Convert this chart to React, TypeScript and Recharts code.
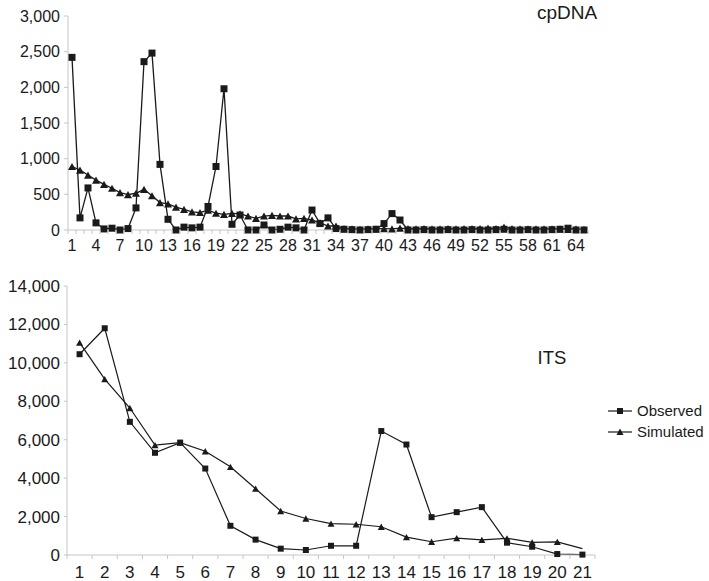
import { LineChart, Line, XAxis, YAxis, Legend } from 'recharts';

// cpDNA panel: 65 categories, labels every third
const cpPositions = Array.from({ length: 65 }, (_, i) => i + 1);
const cpTickLabels = [1, 4, 7, 10, 13, 16, 19, 22, 25, 28, 31, 34, 37, 40, 43, 46, 49, 52, 55, 58, 61, 64];
const cpYTicks = [0, 500, 1000, 1500, 2000, 2500, 3000];
const cpObserved = [
  2420, 170, 590, 100, 15, 25, 0, 20, 310, 2360,
  2480, 920, 150, 0, 40, 30, 40, 330, 890, 1980,
  80, 210, 0, 0, 70, 0, 10, 40, 30, 0,
  280, 90, 170, 20, 10, 5, 0, 5, 10, 90,
  230, 140, 0, 0, 5, 0, 0, 5, 0, 0,
  5, 0, 0, 5, 10, 0, 0, 5, 0, 0,
  5, 10, 25, 0, 0,
];
const cpSimulated = [
  890, 840, 770, 700, 640, 585, 525, 495, 515, 570,
  480, 385, 365, 320, 290, 255, 245, 280, 235, 220,
  234, 225, 196, 164, 196, 205, 196, 196, 155, 164,
  140, 103, 56, 56, 20, 15, 10, 15, 15, 20,
  15, 25, 20, 15, 20, 15, 15, 20, 15, 20,
  20, 20, 25, 20, 40, 20, 15, 15, 15, 15,
  15, 15, 10, 15, 10,
];

// ITS panel: 21 categories
const itsPositions = Array.from({ length: 21 }, (_, i) => i + 1);
const itsYTicks = [0, 2000, 4000, 6000, 8000, 10000, 12000, 14000];
const itsObserved = [10450, 11800, 6930, 5320, 5850, 4500, 1520, 800, 330, 260, 480, 480, 6450, 5750, 1970, 2230, 2490, 640, 430, 50, 20];
const itsSimulated = [11050, 9150, 7650, 5720, 5850, 5400, 4590, 3450, 2290, 1900, 1630, 1600, 1470, 930, 690, 880, 790, 870, 660, 680, 330];

const cpData = cpPositions.map((pos, i) => ({ pos, observed: cpObserved[i], simulated: cpSimulated[i] }));
const itsData = itsPositions.map((pos, i) => ({ pos, observed: itsObserved[i], simulated: itsSimulated[i] }));

const FONT = '"Liberation Sans", Arial, sans-serif';
const INK = '#1a1a1a';
const AXIS = '#c6c6c6';

// boundary tick marks sit between categories, labels sit on them
const cpXTicks = [...cpTickLabels, ...cpPositions.map((p) => p - 0.5), 65.5];
const itsXTicks = [...itsPositions, ...itsPositions.map((p) => p - 0.5), 21.5];

const makeXTick = (gap: number, fontSize: number) => (props: any) => {
  const { x, y, payload } = props;
  const v = payload.value;
  if (v % 1 !== 0) {
    return <line x1={x} y1={y} x2={x} y2={y + 4} stroke={AXIS} />;
  }
  return (
    <text x={x} y={y + gap} dy="0.71em" textAnchor="middle" fontSize={fontSize} fontFamily={FONT} fill={INK}>
      {v}
    </text>
  );
};

const squareDot = (size: number) => (props: any) => {
  const { cx, cy, index } = props;
  if (cx == null || cy == null) return <g key={`s-${index}`} />;
  return <rect key={`s-${index}`} x={cx - size / 2} y={cy - size / 2} width={size} height={size} fill={INK} />;
};

const triangleDot = (size: number, skipLast?: number) => (props: any) => {
  const { cx, cy, index } = props;
  if (cx == null || cy == null || index === skipLast) return <g key={`t-${index}`} />;
  const h = size * 0.9;
  const pts = `${cx},${cy - h / 2} ${cx - size / 2},${cy + h / 2} ${cx + size / 2},${cy + h / 2}`;
  return <polygon key={`t-${index}`} points={pts} fill={INK} />;
};

const fmt = (v: number) => v.toLocaleString('en-US');

const renderLegend = (props: any) => {
  const items = props.payload || [];
  return (
    <div style={{ fontFamily: FONT, fontSize: 15, color: INK }}>
      {items.map((item: any) => (
        <div key={item.value} style={{ display: 'flex', alignItems: 'center', height: 21, whiteSpace: 'nowrap' }}>
          <svg width={26} height={12}>
            <line x1={0} y1={6} x2={24} y2={6} stroke={INK} strokeWidth={1.2} />
            {item.dataKey === 'observed' ? (
              <rect x={9} y={3} width={6} height={6} fill={INK} />
            ) : (
              <polygon points="12,2.5 8.5,9 15.5,9" fill={INK} />
            )}
          </svg>
          <span style={{ marginLeft: 3 }}>{item.value}</span>
        </div>
      ))}
    </div>
  );
};

export default function App() {
  return (
    <div style={{ position: 'absolute', left: 0, top: 0, width: 709, height: 581, background: '#fff' }}>
      <div style={{ position: 'absolute', left: 0, top: 0 }}>
        <LineChart width={600} height={260} data={cpData} margin={{ top: 16, right: 12, left: 0, bottom: 0 }}>
          <XAxis
            dataKey="pos"
            type="number"
            domain={[0.5, 65.5]}
            ticks={cpXTicks}
            interval={0}
            tickLine={false}
            tickSize={0}
            tickMargin={0}
            height={30}
            axisLine={{ stroke: AXIS }}
            tick={makeXTick(10, 16)}
          />
          <YAxis
            width={68}
            domain={[0, 3000]}
            ticks={cpYTicks}
            tickFormatter={fmt}
            axisLine={{ stroke: AXIS }}
            tickLine={{ stroke: AXIS }}
            tickSize={4}
            tickMargin={4}
            tick={{ fontSize: 16, fontFamily: FONT, fill: INK }}
          />
          <Line
            type="linear"
            dataKey="observed"
            name="Observed"
            stroke={INK}
            strokeWidth={1.3}
            dot={squareDot(7)}
            activeDot={false}
            isAnimationActive={false}
          />
          <Line
            type="linear"
            dataKey="simulated"
            name="Simulated"
            stroke={INK}
            strokeWidth={1.3}
            dot={triangleDot(8)}
            activeDot={false}
            isAnimationActive={false}
          />
        </LineChart>
      </div>

      <div style={{ position: 'absolute', left: 0, top: 270 }}>
        <LineChart width={610} height={311} data={itsData} margin={{ top: 16, right: 15, left: 0, bottom: 0 }}>
          <XAxis
            dataKey="pos"
            type="number"
            domain={[0.5, 21.5]}
            ticks={itsXTicks}
            interval={0}
            tickLine={false}
            tickSize={0}
            tickMargin={0}
            height={26}
            axisLine={{ stroke: AXIS }}
            tick={makeXTick(11, 17)}
          />
          <YAxis
            width={67}
            domain={[0, 14000]}
            ticks={itsYTicks}
            tickFormatter={fmt}
            axisLine={{ stroke: AXIS }}
            tickLine={{ stroke: AXIS }}
            tickSize={3}
            tickMargin={4}
            tick={{ fontSize: 17, fontFamily: FONT, fill: INK }}
          />
          <Legend
            layout="horizontal"
            verticalAlign="middle"
            align="center"
            content={renderLegend}
            wrapperStyle={{ left: 608, top: 130, width: 'auto', height: 'auto' }}
          />
          <Line
            type="linear"
            dataKey="observed"
            name="Observed"
            stroke={INK}
            strokeWidth={1.2}
            dot={squareDot(6)}
            activeDot={false}
            isAnimationActive={false}
          />
          <Line
            type="linear"
            dataKey="simulated"
            name="Simulated"
            stroke={INK}
            strokeWidth={1.2}
            dot={triangleDot(7, 20)}
            activeDot={false}
            isAnimationActive={false}
          />
        </LineChart>
      </div>

      <svg width={709} height={581} style={{ position: 'absolute', left: 0, top: 0, pointerEvents: 'none' }}>
        <text x={567} y={18.5} textAnchor="middle" fontSize={19} fontFamily={FONT} fill={INK}>
          cpDNA
        </text>
        <text x={552} y={363.5} textAnchor="middle" fontSize={18.5} fontFamily={FONT} fill={INK}>
          ITS
        </text>
      </svg>
    </div>
  );
}
